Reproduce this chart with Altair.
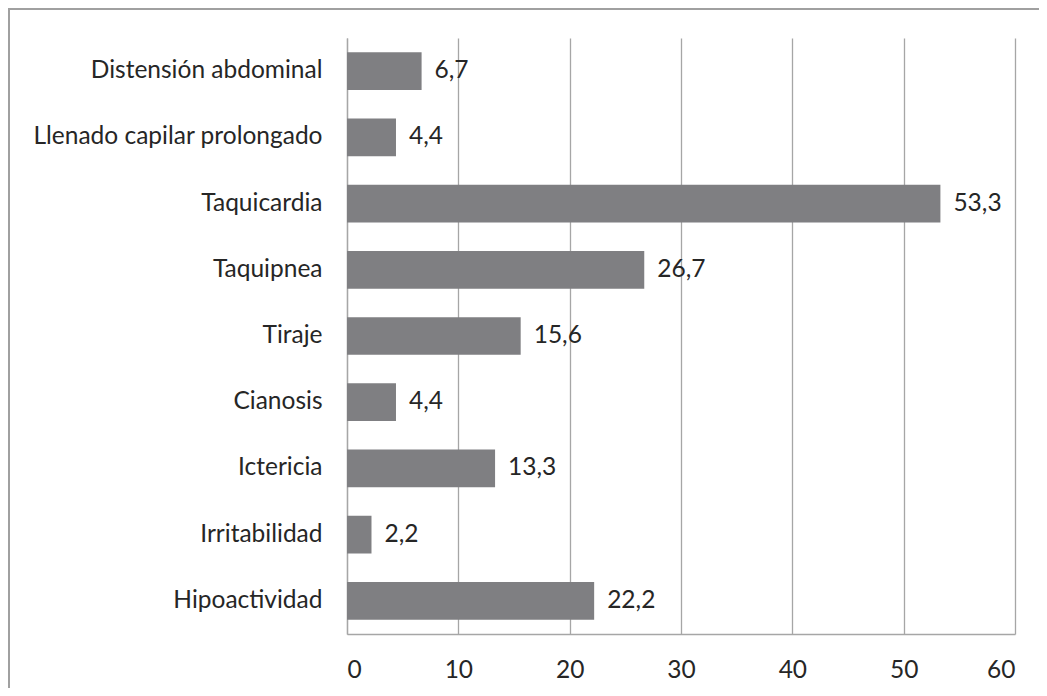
import altair as alt
import pandas as pd

categories = ["Distensión abdominal", "Llenado capilar prolongado", "Taquicardia",
              "Taquipnea", "Tiraje", "Cianosis", "Ictericia", "Irritabilidad", "Hipoactividad"]
values = [6.7, 4.4, 53.3, 26.7, 15.6, 4.4, 13.3, 2.2, 22.2]
x_ticks = [0, 10, 20, 30, 40, 50, 60]

df = pd.DataFrame({"cat": categories, "val": values})

FONT = "Lato"
FS = 24.5
GRID = "#a6a6a6"
TXT = "#262626"

y_enc = alt.Y("cat:N", sort=categories, title=None,
              scale=alt.Scale(paddingInner=0.43, paddingOuter=0.215),
              axis=alt.Axis(ticks=False, labelPadding=25, labelFont=FONT, labelFontSize=FS,
                            labelColor=TXT, domainColor=GRID, domainWidth=1.3, grid=False,
                            labelLimit=400))
x_enc = alt.X("val:Q", title=None, scale=alt.Scale(domain=[0, 60], nice=False),
              axis=alt.Axis(values=x_ticks, ticks=False, labelPadding=24, labelFont=FONT,
                            labelFontSize=FS, labelColor=TXT, domainColor=GRID, domainWidth=1.3,
                            gridColor=GRID, gridWidth=1.3))

bars = alt.Chart(df).mark_bar(color="#7f7f82").encode(x=x_enc, y=y_enc)
labels = alt.Chart(df).transform_calculate(
    lab="replace(format(datum.val, '.1f'), '.', ',')"
).mark_text(align="left", dx=13, font=FONT, fontSize=FS, color=TXT).encode(
    x="val:Q", y=alt.Y("cat:N", sort=categories), text="lab:N")

border = alt.Chart(df).mark_rect(fill=None, stroke="#a0a0a0", strokeWidth=1.5, clip=False).encode(
    x=alt.value(-338), x2=alt.value(720), y=alt.value(-29), y2=alt.value(700))

chart = alt.layer(border, bars, labels).properties(
    width=668, height=596,
    autosize=alt.AutoSizeParams(type="none"),
    padding={"left": 339, "top": 30, "right": 24, "bottom": 54},
).configure_view(stroke=None)

chart.save("out.html", embed_options={"renderer": "svg", "actions": False})
